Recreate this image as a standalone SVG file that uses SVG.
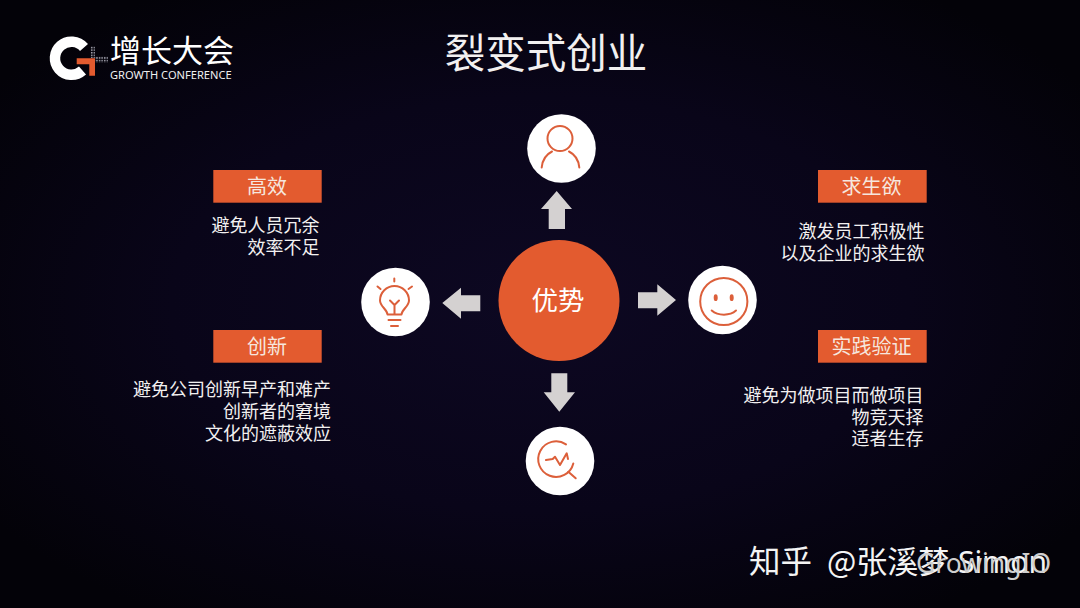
<svg xmlns="http://www.w3.org/2000/svg" width="1080" height="608" viewBox="0 0 1080 608">
<style>
.t{font-family:"Noto Sans CJK SC","Noto Sans",sans-serif;font-weight:400;fill:#f2f0f0}
.b{font-size:18px;text-anchor:end}
.l{font-size:20px;text-anchor:middle;fill:#f6e6de}
.tag{fill:#e35b2f}
.disc{fill:#fff}
.arrow{fill:#d4d1d1}
.ic{fill:none;stroke:#dc5f3a;stroke-width:2;stroke-linecap:round;stroke-linejoin:round}
</style>
<defs>
<radialGradient id="bg" cx="50%" cy="50%" r="62%">
<stop offset="0" stop-color="#0d0822"/>
<stop offset="0.55" stop-color="#090519"/>
<stop offset="1" stop-color="#030208"/>
</radialGradient>
<pattern id="dots" width="2.6" height="2.6" patternUnits="userSpaceOnUse"><rect width="1.5" height="1.5" fill="#a4a4b0"/></pattern>
</defs>
<rect width="1080" height="608" fill="url(#bg)"/>
<g id="logo">
<path d="M84 47.500A16.500 16.500 0 1 0 82.500 70.500" fill="none" stroke="#fff" stroke-width="10.500"/>
<rect x="90" y="46" width="5" height="12" fill="url(#dots)"/>
<rect x="95" y="56.700" width="13" height="5.600" fill="url(#dots)"/>
<path d="M76.700 58.300H95V75.700H89.300V64.300H76.700Z" fill="#e35b2f"/>
<text x="110" y="62" font-family="'Noto Sans CJK SC',sans-serif" font-weight="400" font-size="31" fill="#fff">增长大会</text>
<text x="110" y="79" font-family="'Noto Sans','Liberation Sans',sans-serif" font-size="11.100" fill="#f0f0f0">GROWTH CONFERENCE</text>
</g>
<text id="title" class="t" x="546" y="68" font-size="40.500" text-anchor="middle">裂变式创业</text>
<g id="connectors">
<path class="arrow" d="M556.700 191L572 209H565V229H548.700V209H541Z"/>
<path class="arrow" d="M442.300 303L461 287.700V295.300H480.300V311.300H461V318.700Z"/>
<path class="arrow" d="M676 300L657.300 284.300V292.300H638V308.300H657.300V315.700Z"/>
<path class="arrow" d="M559.300 411.700L575 392.300H567.300V373.300H551.300V392.300H543.700Z"/>
</g>
<g id="center">
<circle cx="559" cy="300.500" r="60.500" fill="#e35b2f"/>
<text class="t" x="558" y="310" font-size="26.500" text-anchor="middle" style="fill:#fff">优势</text>
</g>
<g id="node-person">
<circle class="disc" cx="561.500" cy="148.500" r="34.300"/>
<circle class="ic" cx="560" cy="138.500" r="12.500"/>
<path class="ic" d="M541.700 167.500C542.500 159 547 154 552 151.500M569 151.500C574 154 578.500 159 579.300 167.500"/>
</g>
<g id="node-bulb">
<circle class="disc" cx="395.500" cy="302" r="34.300"/>
<path class="ic" d="M387.500 314.500C387 309 380 306.500 380 300.500A14.500 14.500 0 0 1 409 300.500C409 306.500 402 309 401.500 314.500Z"/>
<path class="ic" d="M390 300.500L394.500 305L399 300.500M394.500 305V314M388.500 320H400.500M391 326H398M394.300 278.500V281.500M377.500 286.500L380.500 289M412 286.500L408.500 289"/>
</g>
<g id="node-smile">
<circle class="disc" cx="722.500" cy="300" r="34.300"/>
<circle class="ic" cx="723.800" cy="301.500" r="23.600"/>
<ellipse cx="715.700" cy="297.700" rx="2" ry="3.400" fill="#dc5f3a"/>
<ellipse cx="731.700" cy="297.700" rx="2" ry="3.400" fill="#dc5f3a"/>
<path class="ic" d="M711.700 310.500C718 316 730 316 736 310.500"/>
</g>
<g id="node-chart">
<circle class="disc" cx="560" cy="461" r="34.300"/>
<path class="ic" d="M566 444.400A17.800 17.800 0 1 0 573.300 463.500"/>
<path class="ic" d="M568.300 471.700L575.700 478.300M546 460L552.700 459L555 456.700L560 465L566.700 453.300L568 459"/>
</g>
<g id="tag-gaoxiao">
<rect class="tag" x="213.300" y="170" width="108.400" height="32.700"/>
<text class="t l" x="267" y="193.500">高效</text>
<text class="t b" x="319.500" y="232">避免人员冗余</text>
<text class="t b" x="319.500" y="254">效率不足</text>
</g>
<g id="tag-chuangxin">
<rect class="tag" x="213.300" y="330" width="108.400" height="32.700"/>
<text class="t l" x="267" y="353.500">创新</text>
<text class="t b" x="331" y="396">避免公司创新早产和难产</text>
<text class="t b" x="331" y="418">创新者的窘境</text>
<text class="t b" x="331" y="440">文化的遮蔽效应</text>
</g>
<g id="tag-qiusheng">
<rect class="tag" x="818" y="170" width="108.700" height="32.700"/>
<text class="t l" x="871.500" y="193.500">求生欲</text>
<text class="t b" x="924.500" y="238">激发员工积极性</text>
<text class="t b" x="924.500" y="260">以及企业的求生欲</text>
</g>
<g id="tag-shijian">
<rect class="tag" x="818" y="330" width="108.700" height="32.700"/>
<text class="t l" x="871.500" y="353.500">实践验证</text>
<text class="t b" x="923.500" y="402">避免为做项目而做项目</text>
<text class="t b" x="923.500" y="423.500">物竞天择</text>
<text class="t b" x="923.500" y="445">适者生存</text>
</g>
<g id="watermark">
<text x="749" y="573" font-family="'Noto Sans CJK SC',sans-serif" font-size="31.500" fill="#f4f4f4">知乎</text>
<text x="827" y="573" font-family="'Noto Sans CJK SC',sans-serif" font-size="31" fill="#f4f4f4">@张溪梦</text>
<text x="958" y="573" font-family="'Noto Sans','Liberation Sans',sans-serif" font-size="30" fill="#f4f4f4">Simon</text>
<text x="916" y="573" font-family="'Noto Sans','Liberation Sans',sans-serif" font-size="26.500" fill="#cfcfcf">GrowingIO</text>
</g>
</svg>
